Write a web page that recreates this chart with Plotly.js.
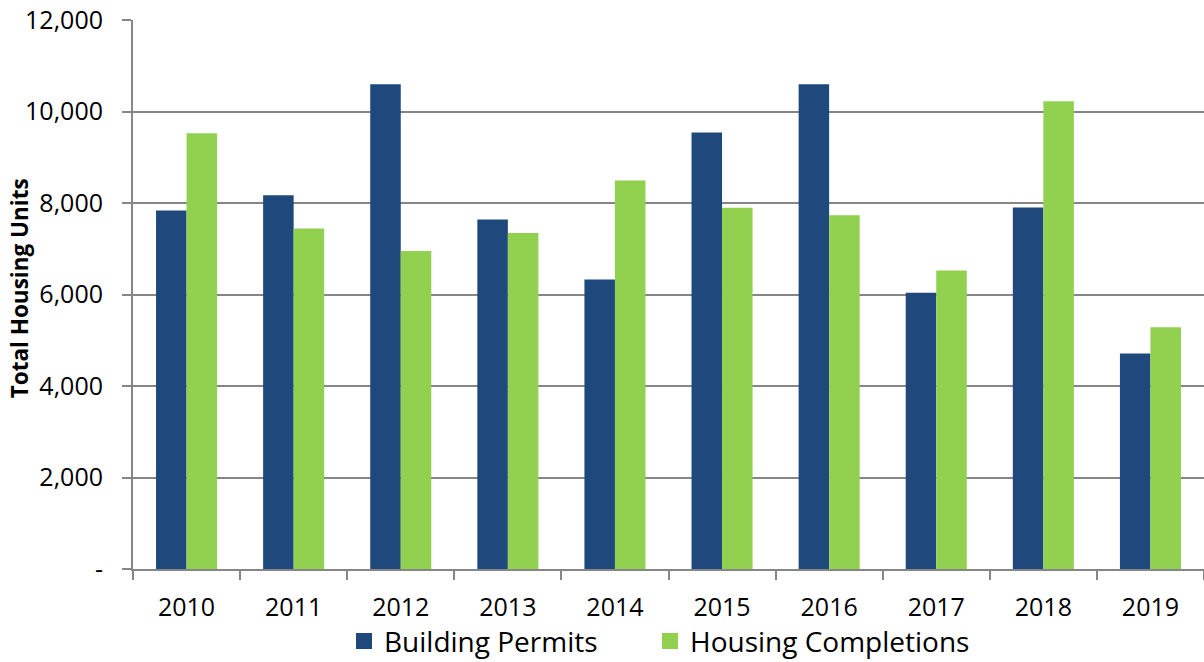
<!DOCTYPE html>
<html>
<head>
<meta charset="utf-8">
<script src="https://cdn.plot.ly/plotly-3.0.1.min.js"></script>
<style>html,body{margin:0;padding:0;background:#fff;}#chart{width:1204px;height:662px;}</style>
</head>
<body>
<div id="chart"></div>
<script>
const years = ["2010","2011","2012","2013","2014","2015","2016","2017","2018","2019"];
const buildingPermits = [7835, 8170, 10595, 7640, 6328, 9540, 10595, 6040, 7900, 4710];
const housingCompletions = [9523, 7440, 6952, 7344, 8492, 7895, 7732, 6522, 10223, 5284];
const yTickVals = [0, 2000, 4000, 6000, 8000, 10000, 12000];
const yTickText = ["-", "2,000", "4,000", "6,000", "8,000", "10,000", "12,000"];
const seriesNames = ["Building Permits", "Housing Completions"];
const seriesColors = ["#1F497D", "#92D050"];

const FONT = "Open Sans, sans-serif";

const traces = [
  {type: "bar", name: seriesNames[0], x: years, y: buildingPermits, showlegend: false,
   marker: {color: seriesColors[0], line: {width: 0}}, hoverinfo: "skip"},
  {type: "bar", name: seriesNames[1], x: years, y: housingCompletions, showlegend: false,
   marker: {color: seriesColors[1], line: {width: 0}}, hoverinfo: "skip"},
  // legend entries (square swatches)
  {type: "scatter", mode: "markers", name: seriesNames[0], x: [null], y: [null], legend: "legend",
   marker: {symbol: "square", size: 16, color: seriesColors[0]}, hoverinfo: "skip"},
  {type: "scatter", mode: "markers", name: seriesNames[1], x: [null], y: [null], legend: "legend2",
   marker: {symbol: "square", size: 16, color: seriesColors[1]}, hoverinfo: "skip"}
];

const legendBase = {orientation: "h", xanchor: "left", y: (568.7 - 641) / 549, yanchor: "middle",
  font: {family: FONT, size: 28, color: "#000"}, itemwidth: 30, itemsizing: "trace",
  bgcolor: "rgba(0,0,0,0)"};

const layout = {
  width: 1204, height: 662,
  margin: {l: 133, r: 0, t: 20, b: 93, pad: 0, autoexpand: false},
  paper_bgcolor: "#fff", plot_bgcolor: "#fff",
  barmode: "group", bargap: 0.43, bargroupgap: 0,
  font: {family: FONT, color: "#000"},
  showlegend: true,
  legend: Object.assign({}, legendBase, {x: (371 - 27 - 133) / 1071}),
  legend2: Object.assign({}, legendBase, {x: (677 - 27 - 133) / 1071}),
  xaxis: {type: "category", showgrid: false, showline: true, linecolor: "#868686", linewidth: 2,
          ticks: "outside", tickson: "boundaries", ticklen: 9, tickwidth: 2, tickcolor: "#868686",
          tickfont: {family: FONT, size: 25, color: "#000"}, ticklabelstandoff: 15,
          zeroline: false, fixedrange: true, automargin: false},
  yaxis: {range: [0, 12000], tickvals: yTickVals, ticktext: yTickText,
          showgrid: true, gridcolor: "#868686", gridwidth: 2,
          showline: true, linecolor: "#868686", linewidth: 2,
          ticks: "outside", ticklen: 9, tickwidth: 2, tickcolor: "#868686",
          tickfont: {family: FONT, size: 25, color: "#000"}, ticklabelstandoff: 14,
          zeroline: false, fixedrange: true, automargin: false},
  annotations: [{
    text: "<b>Total Housing Units</b>", xref: "paper", yref: "paper",
    x: (19 - 133) / 1071, y: (568.7 - 288) / 549, xanchor: "center", yanchor: "middle",
    textangle: -90, showarrow: false, font: {family: FONT, size: 22.5, color: "#000"}
  }]
};

Plotly.newPlot("chart", traces, layout, {displayModeBar: false, staticPlot: true});
</script>
</body>
</html>
